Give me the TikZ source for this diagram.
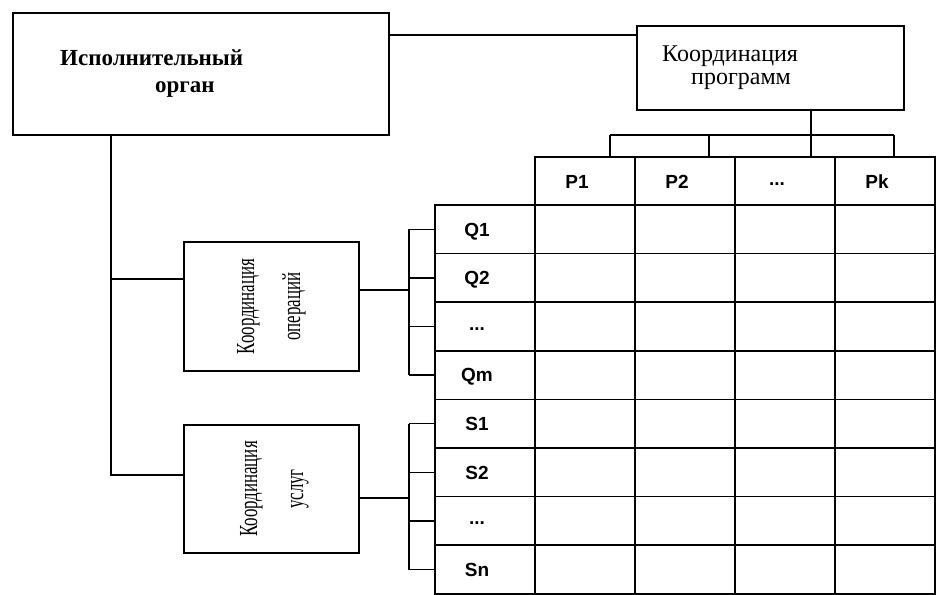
\documentclass[tikz,border=0pt]{standalone}
\usepackage{fontspec}
\setmainfont{Liberation Serif}
\newfontfamily\narrowserif[FakeStretch=0.65]{Liberation Serif}
\newfontfamily\tabsans{Liberation Sans}
\usetikzlibrary{positioning,calc}
\newcommand{\tdots}{\raisebox{3pt}{...}}
\tikzset{
  blk/.style    ={draw,line width=1.5pt,inner sep=0pt,outer sep=0pt},
  orgtxt/.style ={align=left,inner sep=0pt,font=\fontsize{23}{27}\selectfont\bfseries},
  prgtxt/.style ={align=left,inner sep=0pt,font=\fontsize{24}{23}\selectfont},
  vtxt/.style   ={rotate=90,align=center,inner sep=0pt,
                  font=\narrowserif\fontsize{26}{46}\selectfont},
  cell/.style   ={draw,line width=1.5pt,inner sep=0pt,outer sep=0pt,
                  minimum width=100pt,minimum height=48.6pt},
  clab/.style   ={font=\tabsans\bfseries\fontsize{19}{19}\selectfont,
                  xshift=-8pt,inner sep=0pt,text height=13.5pt,text depth=0pt},
  wire/.style   ={line width=1.5pt},
}

\begin{document}
\begin{tikzpicture}[x=1pt,y=-1pt]
\useasboundingbox (0,0) rectangle (936,594);

% --- executive body and programme coordination ------------------------------
\node[blk,minimum width=376pt,minimum height=122pt] (org) at (201,74) {};
\node[orgtxt,anchor=west] (orgname) at ([xshift=47pt]org.west)
  {Исполнительный\\\hspace*{95pt}орган};
\node[blk,minimum width=267pt,minimum height=84pt] (prg) at (770.5,68) {};
\node[prgtxt,anchor=west] (prgname) at ([xshift=25pt]prg.west)
  {Координация\\\hspace*{29pt}программ};
\coordinate (lnk) at (0,35);
\draw[wire] (org.east|-lnk) -- (prg.west|-lnk);

% --- operations / services coordination -------------------------------------
\node[blk,minimum width=175pt,minimum height=129pt] (ops) at (271.5,306.5) {};
\node[vtxt] (opsname) at (ops.center) {Координация\\операций};
\node[blk,minimum width=175pt,minimum height=128pt] (srv) at (271.5,489) {};
\node[vtxt] (srvname) at ([xshift=3pt]srv.center) {Координация\\услуг};

\coordinate (tk1) at (111,279);
\coordinate (tk2) at (111,475);
\draw[wire] (org.south-|tk2) -- (tk2) -- (tk2-|srv.west);
\draw[wire] (tk1) -- (tk1-|ops.west);

% --- table ------------------------------------------------------------------
\foreach \j/\t in {1/P1,2/P2,3/\tdots,4/Pk}
  \node[cell,label={[clab]center:\t}] (h\j) at (485+100*\j,181.3) {};
\foreach \i/\t in {1/Q1,2/Q2,3/\tdots,4/Qm,5/S1,6/S2,7/\tdots,8/Sn}
  \node[cell,label={[clab]center:\t}] (r\i) at (485,180.7+48.6*\i) {};
\foreach \i in {1,...,8}
  \foreach \j in {1,...,4}
    \node[cell] (c\i\j) at (485+100*\j,180.7+48.6*\i) {};

% --- programme bus ----------------------------------------------------------
\coordinate (pb1) at (610,135);
\coordinate (pb2) at (709,135);
\coordinate (pb3) at (811,135);
\coordinate (pb4) at (894,135);
\draw[wire] (prg.south-|pb3) -- (pb3);
\draw[wire] (pb1) -- (pb4);
\foreach \j in {1,...,4}
  \draw[wire] (pb\j) -- (pb\j|-h\j.north);

% --- row brackets -----------------------------------------------------------
\coordinate (qb) at (409,290);
\draw[wire] (ops.east|-qb) -- (qb);
\draw[wire] (qb|-r1) -- (qb|-r4);
\foreach \i in {1,...,4}
  \draw[wire] (qb|-r\i) -- (r\i.west);
\coordinate (sb) at (409,498);
\draw[wire] (srv.east|-sb) -- (sb);
\draw[wire] (sb|-r5) -- (sb|-r8);
\foreach \i in {5,...,8}
  \draw[wire] (sb|-r\i) -- (r\i.west);

\end{tikzpicture}
\end{document}
